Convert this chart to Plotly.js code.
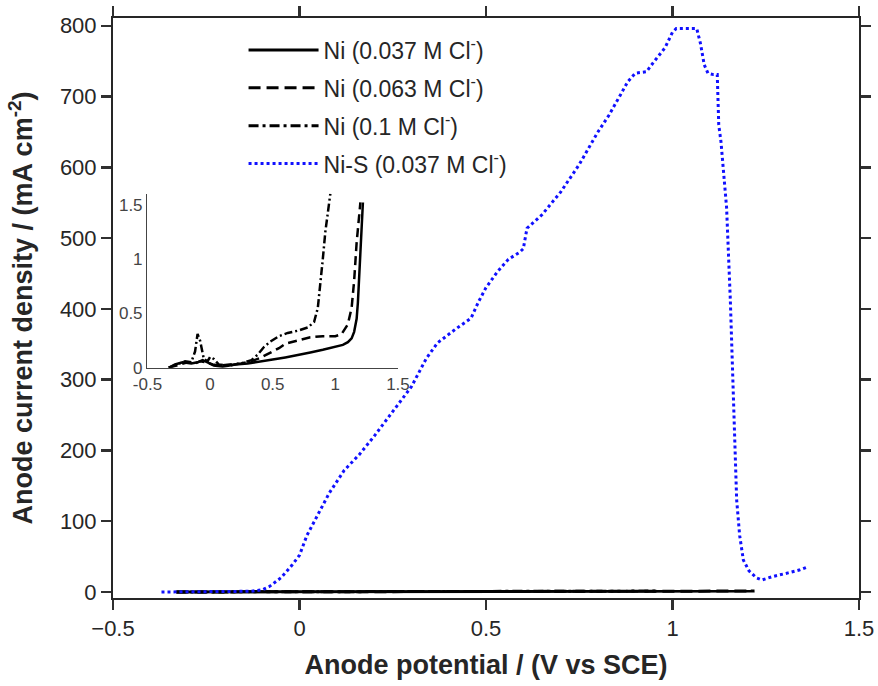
<!DOCTYPE html>
<html>
<head>
<meta charset="utf-8">
<script src="https://cdn.plot.ly/plotly-3.0.1.min.js"></script>
<style>html,body{margin:0;padding:0;background:#fff;}#chart{width:878px;height:686px;}</style>
</head>
<body>
<div id="chart"></div>
<script>
// Ni (0.037 M Cl-)
const ni037_x = [-0.33,-0.28,-0.22,-0.15,-0.1,-0.06,-0.02,0.03,0.1,0.2,0.3,0.4,0.5,0.6,0.7,0.8,0.9,1.0,1.06,1.1,1.13,1.15,1.17,1.18,1.19,1.2,1.21,1.22];
const ni037_y = [0.0,0.03,0.05,0.04,0.05,0.07,0.05,0.02,0.01,0.03,0.04,0.055,0.075,0.095,0.115,0.14,0.165,0.19,0.21,0.235,0.27,0.33,0.45,0.6,0.8,1.05,1.3,1.52];
// Ni (0.063 M Cl-)
const ni063_x = [-0.33,-0.25,-0.18,-0.12,-0.08,-0.03,0.02,0.08,0.15,0.25,0.33,0.4,0.45,0.5,0.55,0.6,0.7,0.8,0.9,1.0,1.05,1.1,1.13,1.15,1.17,1.18,1.19,1.2];
const ni063_y = [0.0,0.03,0.05,0.04,0.06,0.05,0.03,0.02,0.03,0.04,0.06,0.09,0.12,0.15,0.18,0.22,0.25,0.28,0.29,0.29,0.31,0.4,0.55,0.8,1.15,1.3,1.45,1.52];
// Ni (0.1 M Cl-)
const ni100_x = [-0.33,-0.27,-0.2,-0.15,-0.12,-0.1,-0.08,-0.05,-0.02,0.0,0.03,0.07,0.15,0.25,0.33,0.38,0.43,0.48,0.55,0.62,0.7,0.78,0.83,0.86,0.88,0.9,0.92,0.94,0.96];
const ni100_y = [0.0,0.03,0.06,0.05,0.15,0.31,0.25,0.08,0.06,0.1,0.08,0.03,0.02,0.04,0.07,0.12,0.19,0.24,0.29,0.32,0.34,0.37,0.42,0.55,0.75,1.0,1.25,1.45,1.6];
// Ni-S (0.037 M Cl-)
const nis_x = [-0.37,-0.3,-0.2,-0.13,-0.1,-0.08,-0.05,-0.02,0.0,0.02,0.05,0.08,0.12,0.16,0.2,0.25,0.3,0.34,0.37,0.42,0.46,0.48,0.5,0.53,0.56,0.59,0.6,0.61,0.65,0.7,0.75,0.8,0.83,0.86,0.88,0.9,0.93,0.95,0.98,1.0,1.01,1.04,1.065,1.075,1.085,1.095,1.11,1.12,1.124,1.13,1.137,1.145,1.155,1.165,1.172,1.18,1.19,1.205,1.225,1.24,1.27,1.31,1.34,1.365];
const nis_y = [0,0,0,1,3,8,20,38,52,80,110,140,172,194,220,255,290,330,352,372,387,410,430,452,470,480,485,514,533,565,604,650,674,702,721,733,735,749,769,791,796,796,796,775,745,733,731,731,660,636,589,543,413,250,130,80,45,30,20,17,22,27,31,36];

// inset tick labels
const xTickVals = [-0.5,0,0.5,1,1.5];
const xTickText = ['-0.5','0','0.5','1','1.5'];
const yInsetVals = [0,0.5,1,1.5];
const yInsetText = ['0','0.5','1','1.5'];

const names = ['Ni (0.037 M Cl<sup>-</sup>)','Ni (0.063 M Cl<sup>-</sup>)','Ni (0.1 M Cl<sup>-</sup>)','Ni-S (0.037 M Cl<sup>-</sup>)'];

const solid = {color:'#000', width:3, dash:'solid'};
const dashed = {color:'#000', width:3, dash:'12px,6px'};
const dashdot = {color:'#000', width:3, dash:'10px,4px,3px,4px'};
const dotted = {color:'#1010ff', width:3, dash:'dot'};

const traces = [
  {x:ni037_x, y:ni037_y, name:names[0], mode:'lines', line:solid, legendgroup:'a', xaxis:'x', yaxis:'y'},
  {x:ni063_x, y:ni063_y, name:names[1], mode:'lines', line:dashed, legendgroup:'b', xaxis:'x', yaxis:'y'},
  {x:ni100_x, y:ni100_y, name:names[2], mode:'lines', line:dashdot, legendgroup:'c', xaxis:'x', yaxis:'y'},
  {x:nis_x, y:nis_y, name:names[3], mode:'lines', line:dotted, legendgroup:'d', xaxis:'x', yaxis:'y'},
  {x:ni037_x, y:ni037_y, mode:'lines', line:{color:'#000',width:2.5,dash:'solid'}, showlegend:false, xaxis:'x2', yaxis:'y2'},
  {x:ni063_x, y:ni063_y, mode:'lines', line:{color:'#000',width:2.5,dash:'9px,5px'}, showlegend:false, xaxis:'x2', yaxis:'y2'},
  {x:ni100_x, y:ni100_y, mode:'lines', line:{color:'#000',width:2.5,dash:'8px,3px,2px,3px'}, showlegend:false, xaxis:'x2', yaxis:'y2'}
];

const axColor = '#262626';
const layout = {
  width:878, height:686,
  margin:{l:113, r:19, t:18, b:88},
  paper_bgcolor:'#fff', plot_bgcolor:'#fff',
  font:{family:'"Liberation Sans", Arial, sans-serif', color:axColor},
  showlegend:true,
  legend:{x:0.175, y:0.982, xanchor:'left', yanchor:'top', bgcolor:'rgba(0,0,0,0)',
          font:{size:23, color:axColor}, itemwidth:70, traceorder:'grouped', tracegroupgap:5},
  xaxis:{range:[-0.5,1.5], tickmode:'linear', dtick:0.5, tick0:-0.5,
         ticks:'outside', ticklen:10, tickwidth:2.5, tickcolor:'#303030',
         showline:true, linecolor:axColor, linewidth:2, mirror:'allticks', showgrid:false, zeroline:false,
         tickfont:{size:22, color:axColor},
         title:{text:'<b>Anode potential / (V vs SCE)</b>', font:{size:27, color:axColor}, standoff:15}},
  yaxis:{range:[-8.5,811], tickmode:'linear', dtick:100, tick0:0,
         ticks:'outside', ticklen:10, tickwidth:2.5, tickcolor:'#303030',
         showline:true, linecolor:axColor, linewidth:2, mirror:'allticks', showgrid:false, zeroline:false,
         tickfont:{size:22, color:axColor},
         title:{text:'<b>Anode current density / (mA cm<sup>-2</sup>)</b>', font:{size:27, color:axColor}, standoff:19}},
  xaxis2:{domain:[0.0462,0.382], anchor:'y2', range:[-0.5,1.5], tickvals:xTickVals, ticktext:xTickText, ticks:'',
          showline:true, linecolor:'#444', linewidth:1.5, showgrid:false, zeroline:false,
          tickfont:{size:17, color:'#444'}},
  yaxis2:{domain:[0.397,0.697], anchor:'x2', range:[0,1.6], tickvals:yInsetVals, ticktext:yInsetText, ticks:'',
          showline:true, linecolor:'#444', linewidth:1.5, showgrid:false, zeroline:false,
          tickfont:{size:17, color:'#444'}}
};

Plotly.newPlot('chart', traces, layout, {displayModeBar:false, staticPlot:true});
</script>
</body>
</html>
